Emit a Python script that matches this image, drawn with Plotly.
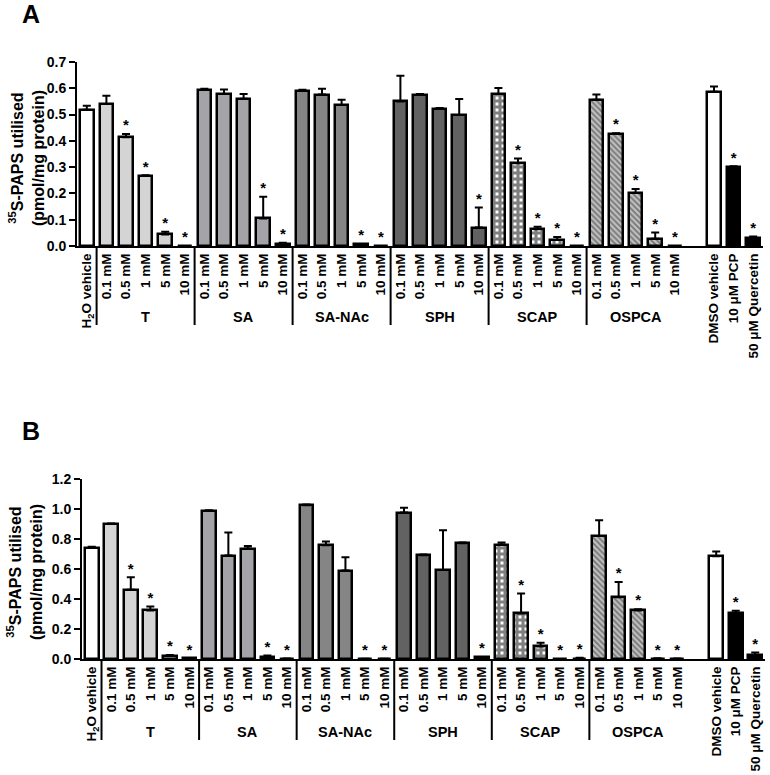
import plotly.graph_objects as go

# ---------------- data ----------------
conc_labels = ["0.1 mM", "0.5 mM", "1 mM", "5 mM", "10 mM"]
groups = ["T", "SA", "SA-NAc", "SPH", "SCAP", "OSPCA"]
control_labels = ["DMSO vehicle", "10 \u03bcM PCP", "50 \u03bcM Quercetin"]
h2o_label = "H<sub>2</sub>O vehicle"

# Panel A values / SEM
h2o_A, h2o_A_err = 0.518, 0.016
T_A = [0.540, 0.414, 0.266, 0.044, 0.0]
T_A_err = [0.032, 0.012, 0.003, 0.010, 0.0]
SA_A = [0.595, 0.578, 0.560, 0.105, 0.009]
SA_A_err = [0.003, 0.017, 0.018, 0.082, 0.003]
SANAc_A = [0.591, 0.576, 0.536, 0.006, 0.0]
SANAc_A_err = [0.003, 0.022, 0.020, 0.002, 0.0]
SPH_A = [0.550, 0.574, 0.521, 0.498, 0.070]
SPH_A_err = [0.098, 0.004, 0.004, 0.061, 0.076]
SCAP_A = [0.578, 0.315, 0.0635, 0.023, 0.0]
SCAP_A_err = [0.023, 0.018, 0.010, 0.011, 0.0]
OSPCA_A = [0.556, 0.426, 0.202, 0.028, 0.0]
OSPCA_A_err = [0.020, 0.003, 0.015, 0.023, 0.0]
ctrl_A = [0.587, 0.300, 0.032]
ctrl_A_err = [0.020, 0.003, 0.004]

# Panel B values / SEM
h2o_B, h2o_B_err = 0.743, 0.005
T_B = [0.900, 0.461, 0.324, 0.022, 0.004]
T_B_err = [0.004, 0.084, 0.026, 0.004, 0.001]
SA_B = [0.987, 0.690, 0.736, 0.016, 0.002]
SA_B_err = [0.005, 0.153, 0.018, 0.008, 0.001]
SANAc_B = [1.025, 0.758, 0.590, 0.002, 0.002]
SANAc_B_err = [0.005, 0.025, 0.088, 0.0, 0.0]
SPH_B = [0.976, 0.692, 0.594, 0.772, 0.011]
SPH_B_err = [0.033, 0.005, 0.264, 0.005, 0.002]
SCAP_B = [0.761, 0.304, 0.084, 0.0, 0.002]
SCAP_B_err = [0.015, 0.133, 0.025, 0.0, 0.006]
OSPCA_B = [0.820, 0.412, 0.324, 0.003, 0.002]
OSPCA_B_err = [0.105, 0.102, 0.008, 0.002, 0.001]
ctrl_B = [0.685, 0.304, 0.027]
ctrl_B_err = [0.031, 0.018, 0.017]

# significance (* vs vehicle), same in both panels
sig_groups = [[0, 1, 1, 1, 1], [0, 0, 0, 1, 1], [0, 0, 0, 1, 1],
              [0, 0, 0, 0, 1], [0, 1, 1, 1, 1], [0, 1, 1, 1, 1]]
sig_ctrl = [0, 1, 1]

# ---------------- styles ----------------
group_styles = [
    dict(color="#d4d4d4"),
    dict(color="#a4a4a8"),
    dict(color="#858585"),
    dict(color="#626262"),
    dict(color="#ffffff", pattern=dict(shape="+", fgcolor="#000000", bgcolor="#ffffff",
                                       size=6, solidity=0.76, fillmode="overlay")),
    dict(color="#b0b0b0", pattern=dict(shape="\\", fgcolor="#2a2a2a", bgcolor="#c0c0c0",
                                       size=4, solidity=0.45, fillmode="overlay")),
]
ctrl_colors = ["#ffffff", "#000000", "#000000"]

FONT = "Liberation Sans"
BAR_W = 0.7
LINE_W = 2.5

fig = go.Figure()

# slot positions
h2o_pos = 0
group_pos = [[1 + g * 5 + k for k in range(5)] for g in range(len(groups))]
ctrl_pos = [32, 33, 34]
tickvals = [h2o_pos] + [p for gp in group_pos for p in gp] + ctrl_pos
ticktext = [h2o_label] + conc_labels * len(groups) + control_labels


def err_dict(e):
    return dict(type="data", symmetric=False, array=e, arrayminus=[0] * len(e),
                color="black", thickness=2, width=4)


def add_panel(xa, ya, h2o, h2o_err, gvals, gerrs, cvals, cerrs):
    fig.add_trace(go.Bar(x=[h2o_pos], y=[h2o], width=BAR_W, xaxis=xa, yaxis=ya,
                         marker=dict(color="#ffffff", line=dict(color="black", width=LINE_W)),
                         error_y=err_dict([h2o_err]), showlegend=False, cliponaxis=False))
    star_x, star_y = [], []
    for g in range(len(groups)):
        st = group_styles[g]
        marker = dict(color=st["color"], line=dict(color="black", width=LINE_W))
        if "pattern" in st:
            marker["pattern"] = st["pattern"]
        fig.add_trace(go.Bar(x=group_pos[g], y=gvals[g], width=BAR_W, xaxis=xa, yaxis=ya,
                             marker=marker, error_y=err_dict(gerrs[g]), showlegend=False,
                             cliponaxis=False))
        for k in range(5):
            if sig_groups[g][k]:
                star_x.append(group_pos[g][k])
                star_y.append(gvals[g][k] + gerrs[g][k])
    fig.add_trace(go.Bar(x=ctrl_pos, y=cvals, width=BAR_W, xaxis=xa, yaxis=ya,
                         marker=dict(color=ctrl_colors, line=dict(color="black", width=LINE_W)),
                         error_y=err_dict(cerrs), showlegend=False, cliponaxis=False))
    for k in range(3):
        if sig_ctrl[k]:
            star_x.append(ctrl_pos[k])
            star_y.append(cvals[k] + cerrs[k])
    fig.add_trace(go.Scatter(x=star_x, y=star_y, mode="text", text=["*"] * len(star_x),
                             textposition="top center", xaxis=xa, yaxis=ya,
                             textfont=dict(family=FONT, size=15, color="black", weight="bold"),
                             cliponaxis=False, showlegend=False, hoverinfo="skip"))


add_panel("x", "y", h2o_A, h2o_A_err,
          [T_A, SA_A, SANAc_A, SPH_A, SCAP_A, OSPCA_A],
          [T_A_err, SA_A_err, SANAc_A_err, SPH_A_err, SCAP_A_err, OSPCA_A_err],
          ctrl_A, ctrl_A_err)
add_panel("x2", "y2", h2o_B, h2o_B_err,
          [T_B, SA_B, SANAc_B, SPH_B, SCAP_B, OSPCA_B],
          [T_B_err, SA_B_err, SANAc_B_err, SPH_B_err, SCAP_B_err, OSPCA_B_err],
          ctrl_B, ctrl_B_err)

W, H = 770, 775
tickfont = dict(family=FONT, size=13.5, color="black", weight="bold")

xcommon = dict(range=[-0.5, 34.5], tickvals=tickvals, ticktext=ticktext, tickangle=-90,
               showline=True, linecolor="black", linewidth=2, ticks="", showgrid=False,
               zeroline=False, tickfont=tickfont, fixedrange=True, automargin=False)
ycommon = dict(showline=True, linecolor="black", linewidth=2, ticks="outside", ticklen=6,
               tickwidth=2, tickcolor="black", showgrid=False, zeroline=False,
               automargin=False, fixedrange=True,
               tickfont=dict(family=FONT, size=14, color="black", weight="bold"))

fig.update_layout(
    width=W, height=H, margin=dict(l=0, r=0, t=0, b=0, autoexpand=False),
    paper_bgcolor="white", plot_bgcolor="white", bargap=0,
    font=dict(family=FONT, color="black"),
    xaxis=dict(domain=[77 / W, 763 / W], anchor="y", **xcommon),
    yaxis=dict(domain=[1 - 246 / H, 1 - 62 / H], anchor="x", range=[0, 0.7],
               tickvals=[0, 0.1, 0.2, 0.3, 0.4, 0.5, 0.6, 0.7],
               ticktext=["0.0", "0.1", "0.2", "0.3", "0.4", "0.5", "0.6", "0.7"], **ycommon),
    xaxis2=dict(domain=[82 / W, 765 / W], anchor="y2", **xcommon),
    yaxis2=dict(domain=[1 - 659 / H, 1 - 479 / H], anchor="x2", range=[0, 1.2],
                tickvals=[0, 0.2, 0.4, 0.6, 0.8, 1.0, 1.2],
                ticktext=["0.0", "0.2", "0.4", "0.6", "0.8", "1.0", "1.2"], **ycommon),
)

ytitle = "<sup>35</sup>S-PAPS utilised<br>(pmol/mg protein)"
titlefont = dict(family=FONT, size=16, color="black", weight="bold")
annotations = [
    dict(text="A", x=31 / W, y=1 - 13.5 / H, xref="paper", yref="paper", showarrow=False,
         font=dict(family=FONT, size=25, color="black", weight="bold"),
         xanchor="center", yanchor="middle"),
    dict(text="B", x=31 / W, y=1 - 431 / H, xref="paper", yref="paper", showarrow=False,
         font=dict(family=FONT, size=25, color="black", weight="bold"),
         xanchor="center", yanchor="middle"),
    dict(text=ytitle, x=26 / W, y=1 - 158 / H, xref="paper", yref="paper", showarrow=False,
         textangle=-90, font=titlefont, xanchor="center", yanchor="middle"),
    dict(text=ytitle, x=24 / W, y=1 - 572 / H, xref="paper", yref="paper", showarrow=False,
         textangle=-90, font=titlefont, xanchor="center", yanchor="middle"),
]
groupfont = dict(family=FONT, size=14.5, color="black", weight="bold")
sep_pos = [0.5] + [group_pos[g][-1] + 0.5 for g in range(len(groups) - 1)]
shapes = []
for xa, ya_top, ya_bot, ylab in [("x", 246, 325, 317), ("x2", 659, 740, 732)]:
    for g in range(len(groups)):
        cx = sum(group_pos[g]) / 5.0
        annotations.append(dict(text=groups[g], x=cx, y=1 - ylab / H, xref=xa, yref="paper",
                                showarrow=False, font=groupfont, xanchor="center",
                                yanchor="middle"))
    for s in sep_pos:
        shapes.append(dict(type="line", xref=xa, yref="paper", x0=s, x1=s,
                           y0=1 - ya_top / H, y1=1 - ya_bot / H,
                           line=dict(color="black", width=2)))
fig.update_layout(annotations=annotations, shapes=shapes)

fig.write_html("out.html", config={"displayModeBar": False},
               post_script="document.body.style.margin='0';document.body.style.overflow='hidden';")
